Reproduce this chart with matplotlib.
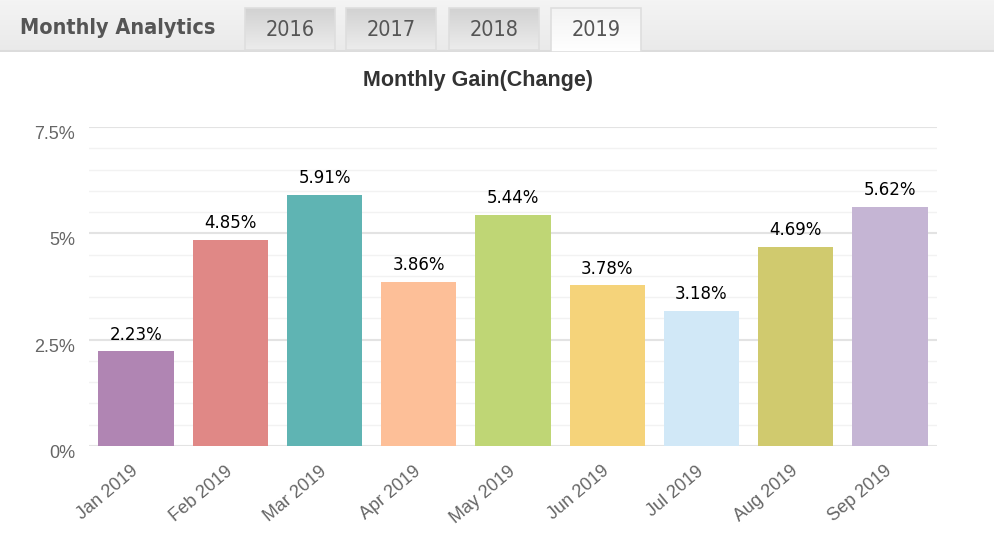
import numpy as np
import matplotlib
matplotlib.use('Agg')
import matplotlib.pyplot as plt
from matplotlib.patches import Rectangle
from matplotlib.transforms import ScaledTranslation

months = ['Jan 2019', 'Feb 2019', 'Mar 2019', 'Apr 2019', 'May 2019',
          'Jun 2019', 'Jul 2019', 'Aug 2019', 'Sep 2019']
gains = [2.23, 4.85, 5.91, 3.86, 5.44, 3.78, 3.18, 4.69, 5.62]
colors = ['#b085b3', '#e08886', '#5fb4b3', '#fdbf98', '#bfd675',
          '#f5d37a', '#d1e8f7', '#d0ca6e', '#c5b5d4']
tabs = ['2016', '2017', '2018', '2019']
yticks = [0, 2.5, 5, 7.5]
ytick_labels = ['0%', '2.5%', '5%', '7.5%']

W, H = 994, 554
fig = plt.figure(figsize=(W / 100, H / 100), dpi=100)
fig.patch.set_facecolor('white')

# header strip with tabs, drawn in pixel coords
hh = 52
axh = fig.add_axes([0, 1 - hh / H, 1, hh / H])
axh.axis('off')
grad = np.linspace(0, 1, 50).reshape(-1, 1)
band_cm = matplotlib.colors.LinearSegmentedColormap.from_list('h', ['#f4f4f4', '#eaeaea'])
axh.imshow(grad, extent=(0, W, 50, 0), cmap=band_cm, aspect='auto', zorder=0)
axh.plot([0, W], [50.5, 50.5], color='#dcdcdc', lw=1.5, zorder=1)
axh.text(20, 28, 'Monthly Analytics', fontsize=15.5, fontweight='bold', color='#555555',
         family='DejaVu Sans', fontstretch='condensed', va='center', ha='left')

tab_x = [245, 346, 449, 551]
tab_w = 90
for i, t in enumerate(tabs):
    x0 = tab_x[i]
    if t == '2019':
        cm = matplotlib.colors.LinearSegmentedColormap.from_list('a', ['#f3f3f3', '#ffffff'])
        bottom = 52
    else:
        cm = matplotlib.colors.LinearSegmentedColormap.from_list('b', ['#d2d2d2', '#ececec'])
        bottom = 50
    axh.imshow(grad, extent=(x0, x0 + tab_w, bottom, 8), cmap=cm, aspect='auto', zorder=2)
    axh.add_patch(Rectangle((x0, 8), tab_w, bottom - 8, fill=False, ec='#dedede', lw=1.2, zorder=3))
    axh.text(x0 + tab_w / 2, 30, t, fontsize=15.5, color='#555555', family='DejaVu Sans',
             fontstretch='condensed', ha='center', va='center', zorder=4)
axh.set_xlim(0, W)
axh.set_ylim(hh, 0)

# main chart
ax = fig.add_axes([89 / W, 108 / H, (937 - 89) / W, (446 - 127) / H])
x = np.arange(len(months))
bars = ax.bar(x, gains, width=0.8, color=colors, zorder=3)
ax.set_xlim(-0.5, len(months) - 0.5)
ax.set_ylim(0, 7.5)

ax.set_yticks(yticks)
ax.set_yticklabels(ytick_labels, fontsize=13, color='#666666', family='Liberation Sans')
ax.set_yticks(np.arange(0, 7.51, 0.5), minor=True)
ax.grid(axis='y', which='major', color='#e3e3e3', lw=1.5, zorder=0)
ax.grid(axis='y', which='minor', color='#f2f2f2', lw=1, zorder=0)
ax.tick_params(axis='y', which='both', length=0, pad=10)
for lab in ax.get_yticklabels():
    lab.set_transform(lab.get_transform() + ScaledTranslation(0, -4 / 72, fig.dpi_scale_trans))

ax.set_xticks(x)
ax.set_xticklabels(months, rotation=40, ha='right', rotation_mode='anchor',
                   fontsize=13, color='#666666', family='Liberation Sans')
ax.tick_params(axis='x', length=0, pad=12)
for lab in ax.get_xticklabels():
    lab.set_transform(lab.get_transform() + ScaledTranslation(-4 / 72, 0, fig.dpi_scale_trans))
for s in ax.spines.values():
    s.set_visible(False)

for b, v in zip(bars, gains):
    ax.annotate('{:.2f}%'.format(v), (b.get_x() + b.get_width() / 2, v),
                xytext=(0, 5.5), textcoords='offset points', ha='center', va='bottom',
                fontsize=12, color='black', family='DejaVu Sans')

fig.text(478 / W, 1 - 80 / H, 'Monthly Gain(Change)', ha='center', va='center',
         fontsize=15.5, fontweight='bold', color='#333333', family='Liberation Sans')

fig.savefig('out.png', dpi=100, facecolor='white')
